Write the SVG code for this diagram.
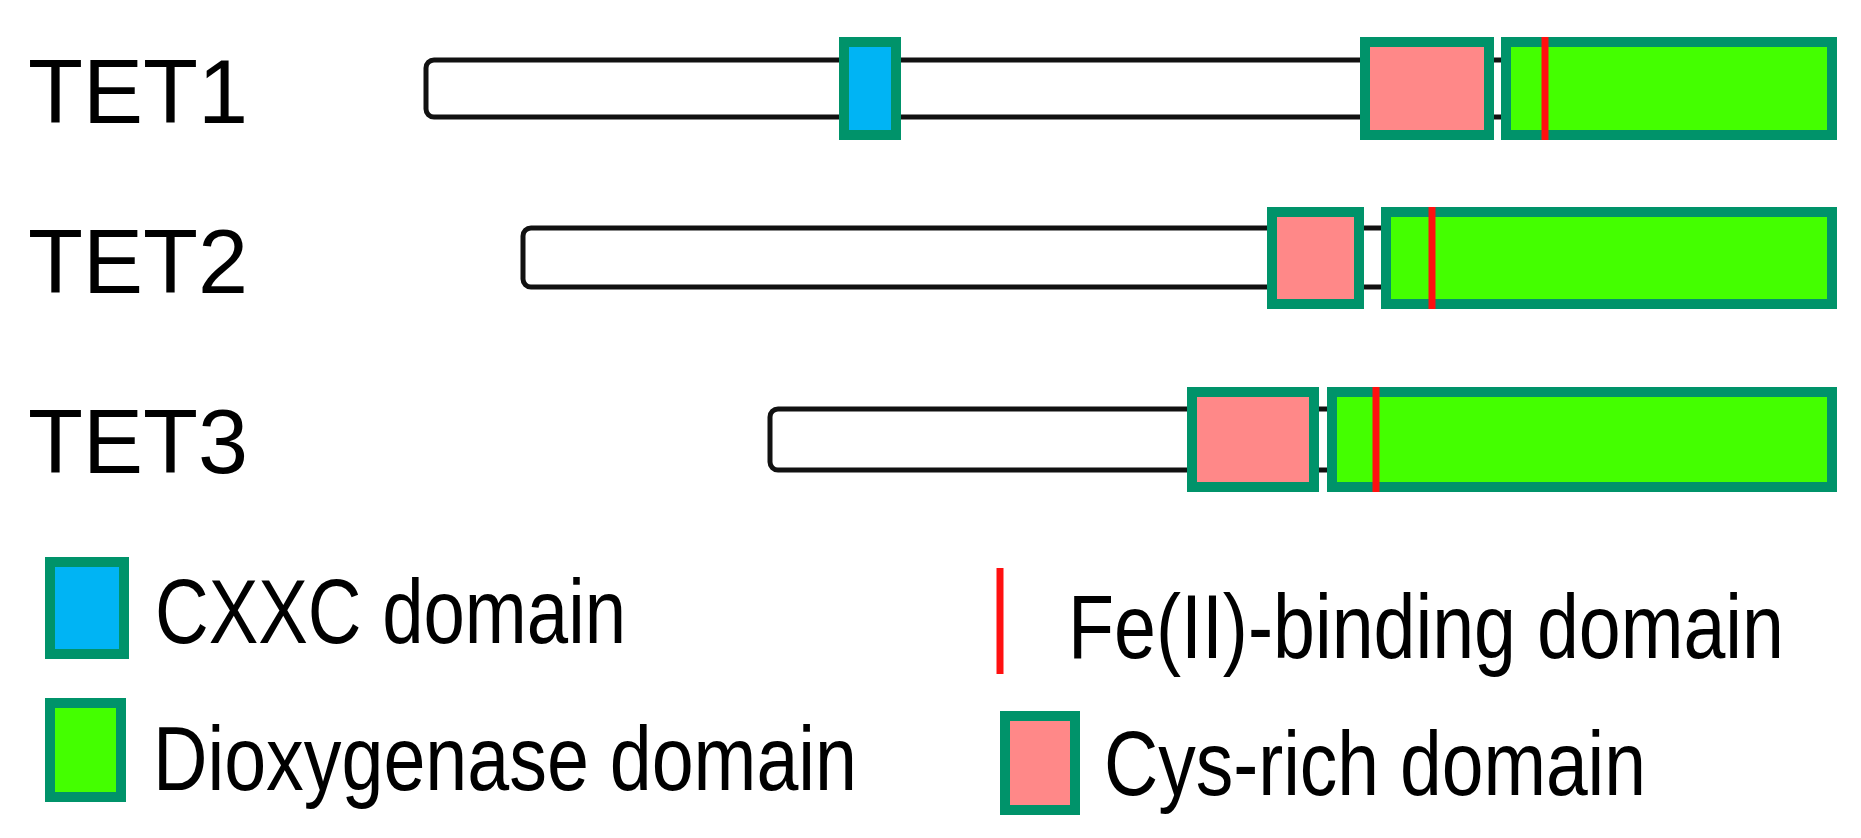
<svg xmlns="http://www.w3.org/2000/svg" width="1861" height="838" viewBox="0 0 1861 838">
<style>
.bar{fill:#fff;stroke:#111;stroke-width:5}
.dom{stroke:#00936a;stroke-width:10}
.cxxc{fill:#00b4f4}
.cys{fill:#ff8888}
.diox{fill:#44ff00}
.fe{stroke:#ff1010;stroke-width:7}
text{font-family:"Liberation Sans",Arial,sans-serif;fill:#000;font-size:90px}
</style>
<rect width="1861" height="838" fill="#fff"/>
<g id="TET1">
<text x="28" y="123" textLength="220" lengthAdjust="spacingAndGlyphs">TET1</text>
<rect class="bar" x="426" y="60" width="1090" height="57" rx="8"/>
<rect class="dom cxxc" x="844" y="42" width="52" height="93"/>
<rect class="dom cys" x="1365" y="42" width="124" height="93"/>
<rect class="dom diox" x="1506" y="42" width="326" height="93"/>
<line class="fe" x1="1545" y1="37" x2="1545" y2="140"/>
</g>
<g id="TET2">
<text x="28" y="293" textLength="220" lengthAdjust="spacingAndGlyphs">TET2</text>
<rect class="bar" x="523" y="228" width="870" height="59" rx="8"/>
<rect class="dom cys" x="1272" y="212" width="87" height="92"/>
<rect class="dom diox" x="1386" y="212" width="446" height="92"/>
<line class="fe" x1="1432" y1="207" x2="1432" y2="309"/>
</g>
<g id="TET3">
<text x="28" y="473" textLength="220" lengthAdjust="spacingAndGlyphs">TET3</text>
<rect class="bar" x="770" y="409" width="570" height="61" rx="8"/>
<rect class="dom cys" x="1192" y="392" width="122" height="95"/>
<rect class="dom diox" x="1332" y="392" width="500" height="95"/>
<line class="fe" x1="1376" y1="387" x2="1376" y2="492"/>
</g>
<g id="legend">
<rect class="dom cxxc" x="50" y="562" width="74" height="92"/>
<text x="155" y="643" textLength="471" lengthAdjust="spacingAndGlyphs">CXXC domain</text>
<rect class="dom diox" x="50" y="703" width="71" height="94"/>
<text x="153" y="790" textLength="704" lengthAdjust="spacingAndGlyphs">Dioxygenase domain</text>
<line class="fe" x1="1000" y1="568" x2="1000" y2="674"/>
<text x="1068" y="658" textLength="716" lengthAdjust="spacingAndGlyphs">Fe(II)-binding domain</text>
<rect class="dom cys" x="1005" y="716" width="70" height="94"/>
<text x="1104" y="795" textLength="542" lengthAdjust="spacingAndGlyphs">Cys-rich domain</text>
</g>
</svg>
